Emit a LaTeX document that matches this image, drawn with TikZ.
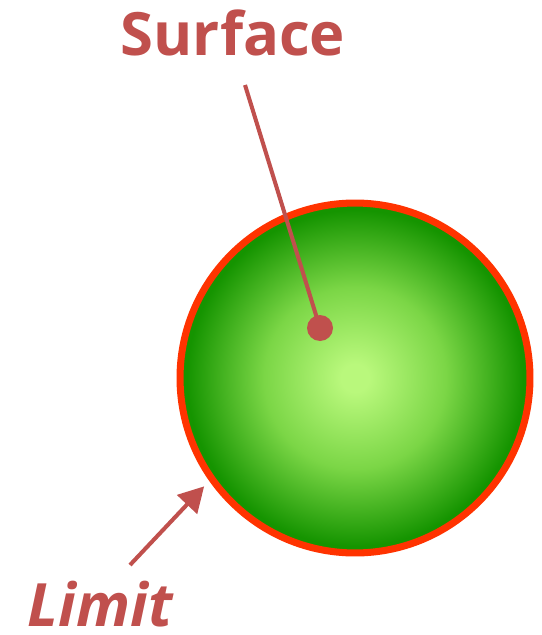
\documentclass[tikz,border=0pt]{standalone}
\usepackage{fontspec}
\setsansfont{Open Sans}
\usepackage{tikz}
\usetikzlibrary{arrows.meta}

\definecolor{tagred}{HTML}{C0504D}
\definecolor{rimred}{HTML}{FF3300}
\definecolor{ballcore}{HTML}{B9F87C}
\definecolor{ballmid}{HTML}{7BD646}
\definecolor{ballrim}{HTML}{159400}
\pgfdeclareradialshading{ballglow}{\pgfpoint{0bp}{0bp}}{color(0bp)=(ballcore); color(2bp)=(ballcore); color(13bp)=(ballmid); color(24bp)=(ballrim); color(50bp)=(ballrim)}

\begin{document}
\begin{tikzpicture}[
        x=0.02cm, y=-0.02cm,
        tag/.style={font=\sffamily\bfseries\fontsize{34}{37}\selectfont, text=tagred, inner sep=0pt, anchor=base},
        pointer/.style={draw=tagred, line width=2.3pt}
    ]
        \useasboundingbox (0,0) rectangle (541,635);

        % Nodes
        \node[circle, minimum size=7cm, inner sep=0pt, outer sep=0pt, draw=rimred, line width=4pt, shading=ballglow, shade] (ball) at (355,378) {};
        \node[tag] (surface) at (233,56) {Surface};
        \node[tag, font=\sffamily\bfseries\itshape\fontsize{34}{37}\selectfont] (limit) at (100,626) {Limit};
        \node[circle, fill=tagred, minimum size=0.52cm, inner sep=0pt] (pin) at (320,328) {};

        % Free ends of the pointers
        \coordinate (surfacefoot) at (245,85);
        \coordinate (limitfoot) at (130,565);

        % Pointers
        \draw[pointer] (surfacefoot) -- (pin.center);
        \draw[pointer, -{Triangle[length=0.5cm, width=0.54cm]}, shorten >=0.22cm] (limitfoot) -- (ball.215);
    \end{tikzpicture}
\end{document}
